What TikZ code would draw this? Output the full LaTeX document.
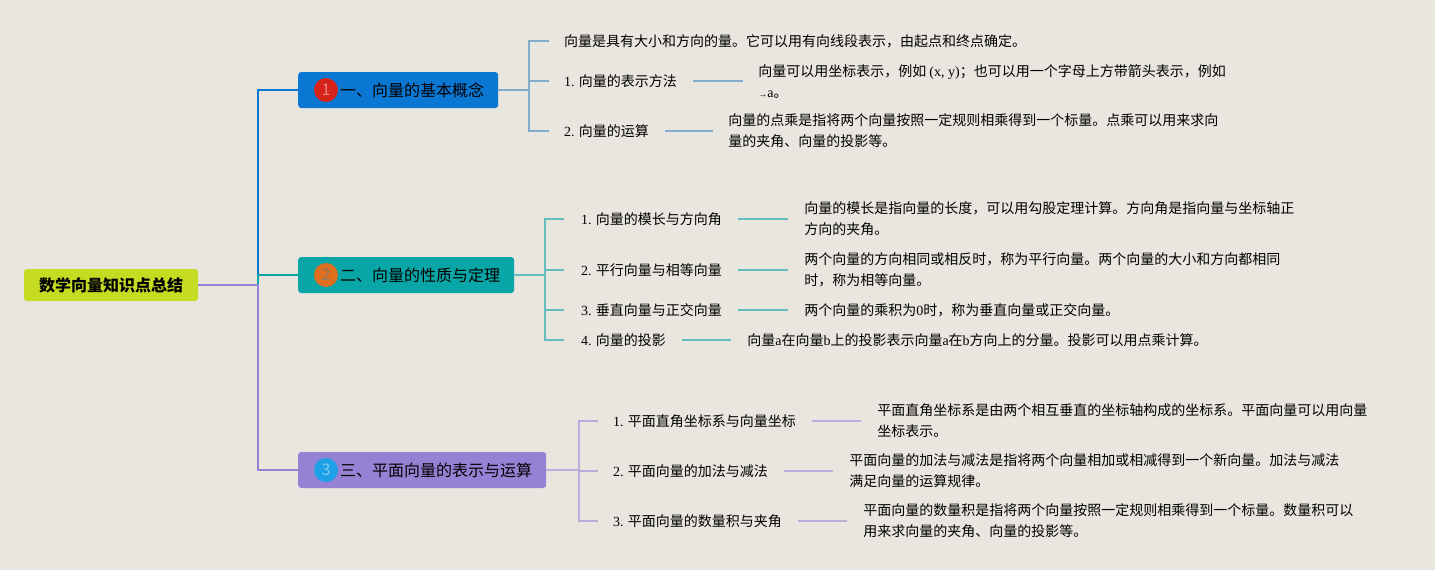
\documentclass[tikz,border=0pt]{standalone}
\usepackage{fontspec}
\setmainfont{Noto Sans CJK SC}
\newfontfamily\latin{Liberation Serif}
\usepackage{xcolor}
\usepackage{tikz}
\definecolor{mapbg}{RGB}{233,230,223}
\definecolor{rootgreen}{RGB}{197,220,34}
\definecolor{topicblue}{RGB}{10,120,210}
\definecolor{topicteal}{RGB}{8,166,166}
\definecolor{topicpurple}{RGB}{150,130,212}
\definecolor{leafblue}{RGB}{130,172,204}
\definecolor{leafteal}{RGB}{100,190,190}
\definecolor{leafpurple}{RGB}{184,174,218}
\definecolor{badgered}{RGB}{215,35,25}
\definecolor{badgeorange}{RGB}{225,110,30}
\definecolor{badgeblue}{RGB}{30,160,230}
\definecolor{badgegrey}{RGB}{140,120,100}

\tikzset{
  rootbox/.style={fill=rootgreen, rounded corners=3pt, minimum width=174pt,
    minimum height=32pt, font=\fontsize{16}{18}\selectfont\bfseries},
  topic/.style={anchor=west, rounded corners=3pt, minimum height=36pt,
    inner xsep=14pt, font=\fontsize{16}{18}\selectfont},
  badge/.style={circle, minimum size=24pt, inner sep=0pt,
    font=\fontsize{16}{18}\selectfont},
  label/.style={anchor=west, inner sep=0pt, font=\fontsize{14}{21}\selectfont},
  desc/.style={anchor=west, inner sep=0pt, align=left,
    font=\fontsize{14}{21}\selectfont},
  mainlink/.style={line width=2.8pt},
  leaflink/.style={line width=1.8pt},
}

\begin{document}
\begin{tikzpicture}[x=1pt, y=-1pt]
  \fill[mapbg] (0,0) rectangle (1435,570);
  \useasboundingbox (0,0) rectangle (1435,570);

  % root and topics
  \node[rootbox] (root) at (111,285) {数学向量知识点总结};
  \coordinate (hub) at (258,285);

  \node[topic, fill=topicblue] (b1) at (298,90) {\hspace*{28pt}一、向量的基本概念};
  \node[topic, fill=topicteal] (b2) at (298,275) {\hspace*{28pt}二、向量的性质与定理};
  \node[topic, fill=topicpurple] (b3) at (298,470) {\hspace*{28pt}三、平面向量的表示与运算};

  \node[badge, fill=badgered, text=badgered!55!white] (n1) at ([xshift=28pt]b1.west) {1};
  \node[badge, fill=badgeorange, text=badgegrey] (n2) at ([xshift=28pt]b2.west) {2};
  \node[badge, fill=badgeblue, text=badgeblue!55!white] (n3) at ([xshift=28pt]b3.west) {3};

  \draw[mainlink, topicblue] (b2.west -| hub) |- (b1.west);
  \draw[mainlink, topicteal] (hub) |- (b2.west);
  \draw[mainlink, topicpurple] (root.east) -- (hub) |- (b3.west);

  % branch one
  \coordinate (k1) at (529,90);
  \node[label] (l10) at (564,41) {向量是具有大小和方向的量。它可以用有向线段表示，由起点和终点确定。};
  \node[label] (l11) at (564,81) {{\latin 1.} 向量的表示方法};
  \node[label] (l12) at (564,131) {{\latin 2.} 向量的运算};
  \node[desc] (d11) at ([xshift=81pt]l11.east) {向量可以用坐标表示，例如 {\latin (x, y)}；也可以用一个字母上方带箭头表示，例如\\{\latin\fontsize{9}{9}\selectfont →}{\latin a}。};
  \node[desc] (d12) at ([xshift=79pt]l12.east) {向量的点乘是指将两个向量按照一定规则相乘得到一个标量。点乘可以用来求向\\量的夹角、向量的投影等。};

  \draw[leaflink, leafblue] (b1.east) -- (k1);
  \foreach \c in {l10,l11,l12}
    \draw[leaflink, leafblue] (k1) |- ([xshift=-15pt]\c.west);
  \draw[leaflink, leafblue] ([xshift=16pt]l11.east) -- ([xshift=-15pt]d11.west);
  \draw[leaflink, leafblue] ([xshift=16pt]l12.east) -- ([xshift=-15pt]d12.west);

  % branch two
  \coordinate (k2) at (545,275);
  \node[label] (l21) at (581,219) {{\latin 1.} 向量的模长与方向角};
  \node[label] (l22) at (581,270) {{\latin 2.} 平行向量与相等向量};
  \node[label] (l23) at (581,310) {{\latin 3.} 垂直向量与正交向量};
  \node[label] (l24) at (581,340) {{\latin 4.} 向量的投影};
  \node[desc] (d21) at ([xshift=82pt]l21.east) {向量的模长是指向量的长度，可以用勾股定理计算。方向角是指向量与坐标轴正\\方向的夹角。};
  \node[desc] (d22) at ([xshift=82pt]l22.east) {两个向量的方向相同或相反时，称为平行向量。两个向量的大小和方向都相同\\时，称为相等向量。};
  \node[desc] (d23) at ([xshift=82pt]l23.east) {两个向量的乘积为{\latin 0}时，称为垂直向量或正交向量。};
  \node[desc] (d24) at ([xshift=81pt]l24.east) {向量{\latin a}在向量{\latin b}上的投影表示向量{\latin a}在{\latin b}方向上的分量。投影可以用点乘计算。};

  \draw[leaflink, leafteal] (b2.east) -- (k2);
  \foreach \c in {l21,l22,l23,l24}
    \draw[leaflink, leafteal] (k2) |- ([xshift=-17pt]\c.west);
  \foreach \c/\d in {l21/d21,l22/d22,l23/d23,l24/d24}
    \draw[leaflink, leafteal] ([xshift=16pt]\c.east) -- ([xshift=-16pt]\d.west);

  % branch three
  \coordinate (k3) at (579,470);
  \node[label] (l31) at (613,421) {{\latin 1.} 平面直角坐标系与向量坐标};
  \node[label] (l32) at (613,471) {{\latin 2.} 平面向量的加法与减法};
  \node[label] (l33) at (613,521) {{\latin 3.} 平面向量的数量积与夹角};
  \node[desc] (d31) at ([xshift=81pt]l31.east) {平面直角坐标系是由两个相互垂直的坐标轴构成的坐标系。平面向量可以用向量\\坐标表示。};
  \node[desc] (d32) at ([xshift=81pt]l32.east) {平面向量的加法与减法是指将两个向量相加或相减得到一个新向量。加法与减法\\满足向量的运算规律。};
  \node[desc] (d33) at ([xshift=81pt]l33.east) {平面向量的数量积是指将两个向量按照一定规则相乘得到一个标量。数量积可以\\用来求向量的夹角、向量的投影等。};

  \draw[leaflink, leafpurple] (b3.east) -- (k3);
  \foreach \c in {l31,l32,l33}
    \draw[leaflink, leafpurple] (k3) |- ([xshift=-15pt]\c.west);
  \foreach \c/\d in {l31/d31,l32/d32,l33/d33}
    \draw[leaflink, leafpurple] ([xshift=16pt]\c.east) -- ([xshift=-16pt]\d.west);
\end{tikzpicture}
\end{document}
